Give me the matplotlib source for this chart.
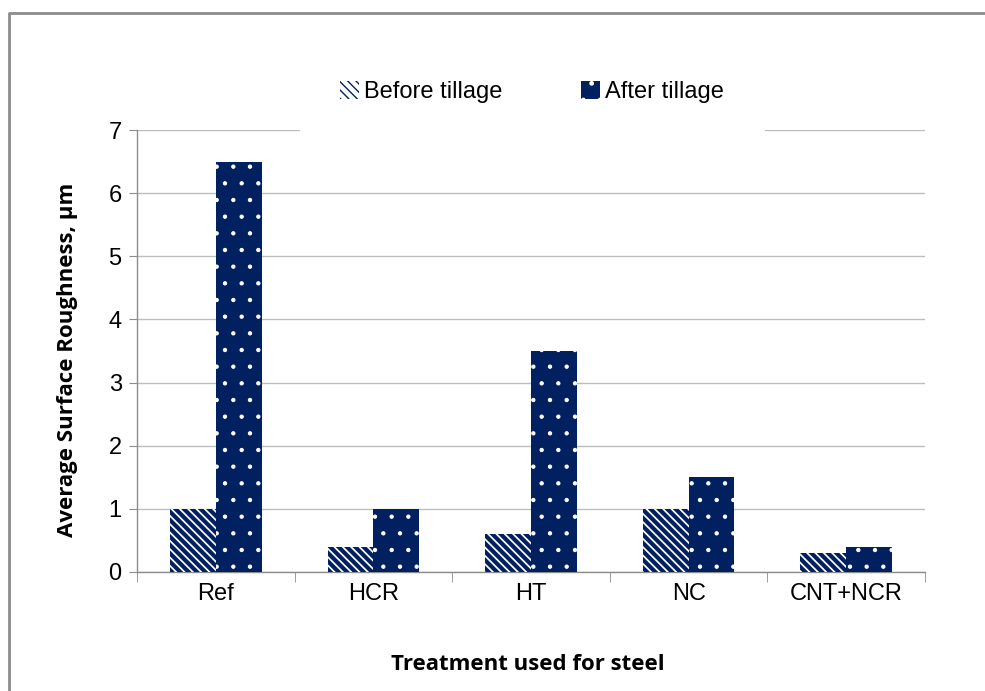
import matplotlib
matplotlib.use("Agg")
import matplotlib.pyplot as plt
from matplotlib.patches import Rectangle
from matplotlib.lines import Line2D
import numpy as np

# data
treatments = ["Ref", "HCR", "HT", "NC", "CNT+NCR"]
before = [1.0, 0.4, 0.6, 1.0, 0.3]
after = [6.5, 1.0, 3.5, 1.5, 0.4]
yticks = [0, 1, 2, 3, 4, 5, 6, 7]

navy = "#002060"
grid_c = "#bdbdbd"
axis_c = "#8c8c8c"

plt.rcParams['font.family'] = ['Liberation Sans', 'DejaVu Sans']

fig = plt.figure(figsize=(9.85, 6.91), dpi=100)
ax = fig.add_axes([137/985, 1-572/691, (925-137)/985, (572-130)/691])

x = np.arange(len(treatments))
w = 0.29

b1 = ax.bar(x - w/2, before, w, color="white", edgecolor=navy,
            hatch="\\\\\\\\", linewidth=0, zorder=3)
b2 = ax.bar(x + w/2, after, w, color=navy, edgecolor="white",
            hatch=".", linewidth=0, zorder=3)

# thick stripes, small dots
for p in b1:
    if hasattr(p, "set_hatch_linewidth"):
        p.set_hatch_linewidth(3.0)
for p in b2:
    if hasattr(p, "set_hatch_linewidth"):
        p.set_hatch_linewidth(0.7)

ax.set_xlim(-0.5, len(treatments) - 0.5)
ax.set_ylim(0, 7)
ax.set_yticks(yticks)
ax.set_yticklabels([str(t) for t in yticks], fontsize=17)
ax.yaxis.grid(True, color=grid_c, linewidth=1.0, zorder=0)
ax.set_axisbelow(True)

ax.set_xticks(x)
ax.set_xticklabels(treatments, fontsize=17)
ax.set_xticks(np.arange(len(treatments) + 1) - 0.5, minor=True)
ax.tick_params(axis='x', which='major', length=0, pad=8)
ax.tick_params(axis='x', which='minor', length=7, color=axis_c, direction='out')
ax.tick_params(axis='y', length=6, color=axis_c, pad=5)

for s in ["top", "right"]:
    ax.spines[s].set_visible(False)
for s in ["left", "bottom"]:
    ax.spines[s].set_color(axis_c)
    ax.spines[s].set_linewidth(1.0)

fig.text(68/985, 1-360/691, "Average Surface Roughness, \u00b5m", rotation=90,
         ha="center", va="center", fontsize=16, fontweight="bold",
         family=['Open Sans', 'DejaVu Sans'])
fig.text(528/985, 1-664/691, "Treatment used for steel",
         ha="center", va="center", fontsize=16, fontweight="bold",
         family=['Open Sans', 'DejaVu Sans'])

# white box behind the legend, hides the top gridline there
fig.patches.append(Rectangle((300/985, 1-136/691), 465/985, 76/691,
                             transform=fig.transFigure, facecolor="white",
                             edgecolor="none", zorder=2))
fig.legend([b1, b2], ["Before tillage", "After tillage"], ncol=2,
           loc="center", bbox_to_anchor=(532/985, 1-92/691), frameon=False,
           fontsize=17, handlelength=0.8, handleheight=0.8,
           handletextpad=0.25, columnspacing=3.3)

# outer chart frame (left and top edges only visible)
fig.lines.append(Line2D([9/985, 9/985, 1], [0, 1-12.5/691, 1-12.5/691],
                        transform=fig.transFigure, color="#8c8c8c", linewidth=2))

fig.savefig("out.png", dpi=100)
